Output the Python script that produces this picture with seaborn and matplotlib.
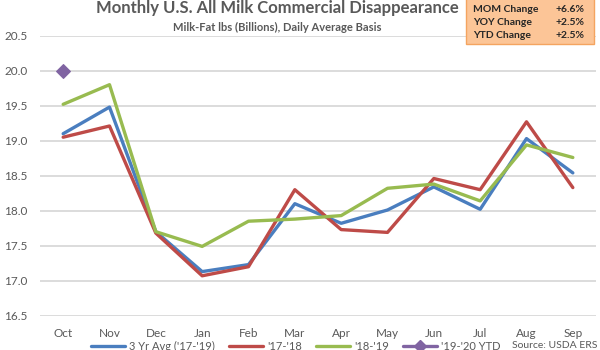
import matplotlib
matplotlib.use("Agg")
import matplotlib.pyplot as plt
from matplotlib.lines import Line2D
from matplotlib.patches import FancyBboxPatch
import seaborn as sns
import pandas as pd

months = ["Oct", "Nov", "Dec", "Jan", "Feb", "Mar", "Apr", "May", "Jun", "Jul", "Aug", "Sep"]
avg_3yr = [19.10, 19.48, 17.70, 17.13, 17.23, 18.10, 17.82, 18.01, 18.34, 18.02, 19.03, 18.54]
y17_18 = [19.05, 19.21, 17.68, 17.07, 17.20, 18.30, 17.73, 17.69, 18.46, 18.30, 19.27, 18.33]
y18_19 = [19.52, 19.80, 17.70, 17.49, 17.85, 17.88, 17.93, 18.32, 18.38, 18.14, 18.94, 18.76]
y19_20 = [20.00]
series_names = ["3 Yr Avg ('17-'19)", "'17-'18", "'18-'19", "'19-'20 YTD"]
yticks = [16.5, 17.0, 17.5, 18.0, 18.5, 19.0, 19.5, 20.0, 20.5]
box_labels = ["MOM Change", "YOY Change", "YTD Change"]
box_values = ["+6.6%", "+2.5%", "+2.5%"]

colors = ["#4A7EBF", "#BE4B48", "#98BB50", "#8064A2"]

sns.set_theme(style="white")
plt.rcParams["font.family"] = ["Lato", "DejaVu Sans"]

rows = []
for name, vals in zip(series_names[:3], [avg_3yr, y17_18, y18_19]):
    for i, v in enumerate(vals):
        rows.append({"x": i, "month": months[i], "value": v, "series": name})
df = pd.DataFrame(rows)
df_ytd = pd.DataFrame({"x": list(range(len(y19_20))), "value": y19_20,
                       "series": series_names[3]})

fig = plt.figure(figsize=(6, 3.5), dpi=100)
ax = fig.add_axes([40/600, 1-315.7/350, 556/600, 280/350])

sns.lineplot(data=df, x="x", y="value", hue="series", palette=colors[:3],
             linewidth=2.4, ax=ax, legend=False, sort=False)
sns.lineplot(data=df_ytd, x="x", y="value", color=colors[3], marker="D",
             markersize=7, linewidth=2.4, ax=ax, legend=False,
             markeredgecolor=colors[3])

ax.set_xlim(-0.5, 11.5)
ax.set_ylim(16.5, 20.5)
ax.set_yticks(yticks)
ax.set_yticklabels([f"{t:.1f}" for t in yticks])
ax.set_xticks(range(len(months)))
ax.set_xticklabels(months)
ax.grid(axis="y", color="#D9D9D9", linewidth=1.3)
ax.grid(axis="x", visible=False)
ax.set_axisbelow(True)
for s in ax.spines.values():
    s.set_visible(False)
ax.tick_params(axis="both", length=0, labelsize=8.5, labelcolor="#595959")
ax.tick_params(axis="y", pad=9)
ax.tick_params(axis="x", pad=9)
ax.set_xlabel("")
ax.set_ylabel("")

fig.text(277/600, 1-8/350, "Monthly U.S. All Milk Commercial Disappearance",
         ha="center", va="center", fontsize=12, fontweight="bold", color="#595959")
fig.text(277/600, 1-27/350, "Milk-Fat lbs (Billions), Daily Average Basis",
         ha="center", va="center", fontsize=8, fontweight="bold", color="#595959")

# Change box
box = FancyBboxPatch((466/600, 1-44/350), 128/600, 48/350,
                     boxstyle="square,pad=0", transform=fig.transFigure,
                     facecolor="#FCC597", edgecolor="#F4A460", linewidth=1.0,
                     clip_on=False)
fig.patches.append(box)
for i, (lab, val) in enumerate(zip(box_labels, box_values)):
    yy = 1 - (9 + i*13.5)/350
    fig.text(473/600, yy, lab, ha="left", va="center", fontsize=7.5,
             fontweight="bold", color="#262626")
    fig.text(585/600, yy, val, ha="right", va="center", fontsize=7.5,
             fontweight="bold", color="#262626")

handles = [Line2D([], [], color=colors[0], linewidth=2.4),
           Line2D([], [], color=colors[1], linewidth=2.4),
           Line2D([], [], color=colors[2], linewidth=2.4),
           Line2D([], [], color=colors[3], linewidth=2.4, marker="D", markersize=6)]
fig.legend(handles, series_names, loc="center", bbox_to_anchor=(296/600, 1-346/350),
           ncol=4, frameon=False, fontsize=8, labelcolor="#595959",
           handlelength=3.0, columnspacing=1.3, handletextpad=0.4,
           borderpad=0, borderaxespad=0)
fig.text(512/600, 1-346/350, "Source: USDA ERS", ha="left", va="center",
         fontsize=7.5, color="#595959")

fig.savefig("out.png", dpi=100)
